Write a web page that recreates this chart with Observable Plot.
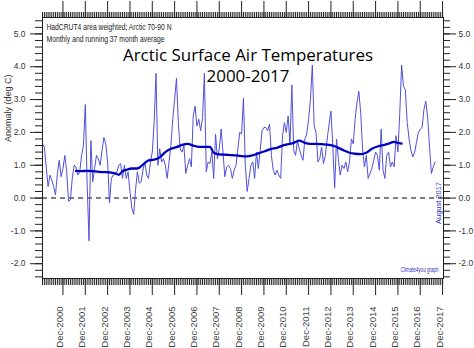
<!DOCTYPE html>
<html>
<head>
<meta charset="utf-8">
<script src="https://cdn.jsdelivr.net/npm/d3@7"></script>
<script src="https://cdn.jsdelivr.net/npm/@observablehq/plot@0.6"></script>
<style>
  html, body { margin: 0; padding: 0; background: #fff; }
  #chart svg { display: block; }
</style>
</head>
<body>
<div id="chart"></div>
<script>
// Monthly anomalies (deg C), Jan 2000 .. Aug 2017 (month index 0 = Jan 2000)
const anomaly = [
  1.65, 1.55, 0.95, 0.35, 0.7, 0.55, 0.35, 0.1, 0.75, 1.15, 0.65, 0.9,
  1.3, 0.8, -0.1, -0.05, 0.6, 1.0, 0.95, 0.7, 0.8, 1.3, 1.6, 2.85,
  0.4, -1.3, 1.75, 0.5, 0.9, 1.3, 1.2, 1.0, 1.45, 1.85, 1.65, 1.1,
  -0.15, 0.6, 0.7, 0.75, 0.8, 1.0, 1.05, 0.6, 1.0, 0.6, 0.8, 0.2,
  -0.3, -0.5, 0.25, 0.8, 0.45, 0.5, 0.85, 1.1, 0.7, 0.6, 1.1, 1.4,
  2.3, 3.8, 1.0, 1.5, 1.1, 1.2, 1.0, 0.6, 1.1, 1.6, 2.4, 3.0,
  3.65, 2.3, 1.5, 1.4, 1.6, 0.75, 1.0, 1.2, 0.95, 2.5, 2.8, 2.2,
  2.4, 2.05, 2.45, 3.8, 0.8, 1.1, 1.05, 1.4, 0.6, 1.95, 1.2, 1.5,
  2.1, 1.4, 0.65, 0.95, 1.0, 0.9, 0.6, 0.85, 1.0, 1.5, 2.0, 1.95,
  3.05, 1.0, 0.2, 0.6, 1.0, 1.1, 0.6, 1.4, 0.9, 1.45, 2.05, 2.15,
  2.15, 2.05, 2.25, 1.3, 0.85, 0.7, 0.85, 0.7, 0.6, 1.9, 2.3, 2.0,
  2.5, 1.65, 3.45, 1.45, 1.3, 1.75, 1.5, 1.3, 1.15, 1.8, 1.95, 2.4,
  3.0, 4.05, 2.2, 2.0, 1.1, 1.2, 1.55, 1.05, 1.3, 1.8, 2.25, 2.65,
  1.6, 0.3, 1.8, 1.2, 0.7, 1.0, 0.9, 1.1, 0.8, 1.1, 1.8, 1.65,
  2.4, 2.9, 3.25, 2.6, 1.5, 0.95, 1.3, 0.6, 0.75, 0.9, 1.15, 1.4,
  1.3, 0.85, 2.1, 0.85, 0.6, 1.3, 1.4, 0.95, 1.1, 0.95, 1.9, 1.4,
  2.6, 4.05, 3.4, 3.3, 2.3, 1.8, 1.45, 1.25, 1.4, 1.7, 2.0, 2.1,
  2.15, 2.7, 2.95, 2.45, 1.55, 0.75, 0.95, 1.1
];

// Running 37-month average (month index, value)
const avgMonth = [18, 21, 24, 27, 30, 33, 36, 39, 41, 43, 45, 48, 51, 54, 57, 60, 63, 66, 69, 72, 75, 78, 81, 84, 87, 90, 92, 95, 99, 102, 105, 108, 111, 114, 117, 120, 123, 126, 129, 132, 135, 138, 141, 144, 147, 150, 153, 156, 159, 162, 165, 168, 171, 174, 177, 180, 183, 186, 189, 191, 193];
const avgValue = [0.83, 0.82, 0.83, 0.82, 0.8, 0.79, 0.78, 0.75, 0.71, 0.82, 0.86, 0.9, 0.9, 1.02, 1.15, 1.17, 1.24, 1.4, 1.5, 1.55, 1.62, 1.65, 1.6, 1.56, 1.56, 1.56, 1.38, 1.33, 1.32, 1.31, 1.29, 1.27, 1.28, 1.32, 1.38, 1.44, 1.5, 1.53, 1.6, 1.64, 1.68, 1.75, 1.68, 1.65, 1.65, 1.64, 1.63, 1.6, 1.53, 1.45, 1.38, 1.35, 1.34, 1.38, 1.5, 1.57, 1.61, 1.66, 1.71, 1.68, 1.66];

const xTickLabels = ["Dec-2000","Dec-2001","Dec-2002","Dec-2003","Dec-2004","Dec-2005","Dec-2006","Dec-2007","Dec-2008","Dec-2009","Dec-2010","Dec-2011","Dec-2012","Dec-2013","Dec-2014","Dec-2015","Dec-2016","Dec-2017"];
const yTickValues = [-2, -1, 0, 1, 2, 3, 4, 5];

const titleLines = ["Arctic Surface Air Temperatures", "2000-2017"];
const noteLines = ["HadCRUT4 area weighted; Arctic 70-90 N", "Monthly and running 37 month average"];
const yLabel = "Anomaly (deg C)";
const endLabel = "August 2017";
const creditText = "Climate4you graph";

// derived tables
const monthly = anomaly.map((v, i) => ({m: i, v}));
const avg = avgMonth.map((m, i) => ({m, v: avgValue[i]}));
const majorX = xTickLabels.map((_, k) => 11 + 12 * k);
const xLabels = xTickLabels.map((t, k) => ({m: majorX[k], t}));
const minorX = d3.range(0, 216);
const minorY = d3.range(-12, 28).map(i => i / 5);
const blank = () => "";
const fmt = d => d.toFixed(1);
const sans = "'Liberation Sans', Arial, sans-serif";
const titleFont = "'Open Sans', 'Noto Sans', sans-serif";

const chart = Plot.plot({
  width: 474,
  height: 348,
  marginLeft: 42,
  marginRight: 31,
  marginTop: 17,
  marginBottom: 70,
  x: {domain: [0, 215.5], label: null},
  y: {domain: [-2.45, 5.5], label: null},
  style: {fontFamily: sans, fontSize: "9px", color: "#333", background: "#fff"},
  marks: [
    Plot.ruleY([0], {stroke: "#555", strokeDasharray: "5,4", strokeWidth: 1.5}),
    Plot.line(monthly, {x: "m", y: "v", stroke: "#5050d8", strokeWidth: 1}),
    Plot.line(avg, {x: "m", y: "v", stroke: "#0000c0", strokeWidth: 2.3, curve: "monotone-x"}),
    Plot.frame({stroke: "#222"}),
    Plot.axisY(minorY, {anchor: "left", tickSize: 7, tickFormat: blank, stroke: "#222", label: null}),
    Plot.axisY(yTickValues, {anchor: "left", tickSize: 12, tickPadding: 5, tickFormat: fmt, stroke: "#222", label: null, fontSize: 8.5, fill: "#333"}),
    Plot.axisY(minorY, {anchor: "right", tickSize: 6, tickFormat: blank, stroke: "#222", label: null}),
    Plot.axisY(yTickValues, {anchor: "right", tickSize: 12, tickPadding: 3, tickFormat: fmt, stroke: "#222", label: null, fontSize: 8.5, fill: "#333"}),
    Plot.axisX(minorX, {anchor: "bottom", tickSize: 7, tickFormat: blank, stroke: "#222", label: null}),
    Plot.axisX(majorX, {anchor: "bottom", tickSize: 17, tickFormat: blank, stroke: "#222", label: null}),
    Plot.axisX(minorX, {anchor: "top", tickSize: 6, tickFormat: blank, stroke: "#222", label: null}),
    Plot.axisX(majorX, {anchor: "top", tickSize: 17, tickFormat: blank, stroke: "#222", label: null}),
    Plot.text(xLabels, {x: "m", text: "t", frameAnchor: "bottom", rotate: -90, textAnchor: "end", dy: 28, fontSize: 9.5, fill: "#444", style: "letter-spacing:1px"}),
    Plot.text([yLabel], {text: d => d, frameAnchor: "left", rotate: -90, dx: -34, dy: -6, fontSize: 9, fill: "#333"}),
    Plot.text([noteLines[0]], {text: d => d, frameAnchor: "top-left", dx: 4, dy: 6, fontSize: 9, fill: "#222"}),
    Plot.text([noteLines[1]], {text: d => d, frameAnchor: "top-left", dx: 4, dy: 18, fontSize: 9, fill: "#222"}),
    Plot.text([titleLines[0]], {text: d => d, frameAnchor: "top", dx: 5, dy: 31, fontSize: 17, fontWeight: 400, fontFamily: titleFont, fill: "#000"}),
    Plot.text([titleLines[1]], {text: d => d, frameAnchor: "top", dx: 5, dy: 52, fontSize: 17, fontWeight: 400, fontFamily: titleFont, fill: "#000"}),
    Plot.text([endLabel], {text: d => d, frameAnchor: "right", rotate: -90, dx: -5, dy: 34, fontSize: 7, fill: "#3333cc"}),
    Plot.text([creditText], {text: d => d, frameAnchor: "bottom-right", textAnchor: "end", dx: -5, dy: -7, fontSize: 7, fill: "#3333cc"})
  ]
});

// condense text runs to the widths they have in the reference
const widths = new Map([
  [noteLines[0], 125], [noteLines[1], 118], [creditText, 38],
  [titleLines[0], 250], [titleLines[1], 83], [endLabel, 42]
]);
d3.select(chart).selectAll("text").each(function () {
  const w = widths.get(this.textContent);
  if (w) d3.select(this).attr("textLength", w).attr("lengthAdjust", "spacingAndGlyphs");
});
document.getElementById("chart").appendChild(chart);
</script>
</body>
</html>
